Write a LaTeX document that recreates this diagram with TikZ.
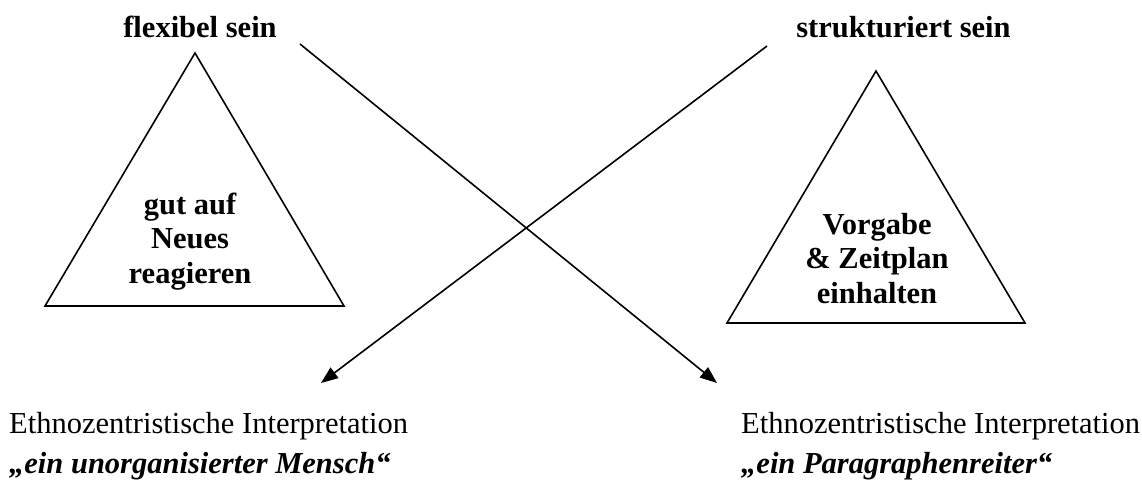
\documentclass[tikz,border=0pt]{standalone}
\usepackage{fontspec}
\setmainfont{Liberation Serif}
\usetikzlibrary{arrows.meta}

\tikzset{
  lbl/.style={inner sep=0pt, font=\fontsize{30.5}{34.5}\selectfont},
  title/.style={lbl, font=\fontsize{30.5}{34.5}\selectfont\bfseries, anchor=base},
  inner/.style={lbl, font=\fontsize{30.5}{34.5}\selectfont\bfseries, align=center, anchor=base},
  interp/.style={lbl, anchor=base west},
  quote/.style={lbl, font=\fontsize{30.5}{34.5}\selectfont\bfseries\itshape, anchor=base west},
  tri/.style={line width=1.6pt, line join=miter},
  link/.style={line width=1.6pt, -{Triangle[length=17pt,width=13pt]}}
}

\begin{document}
\begin{tikzpicture}[x=1pt,y=-1pt]
  \useasboundingbox (0,0) rectangle (1142,485);

  % headings
  \node[title] (flex) at (200,37) {flexibel sein};
  \node[title] (struct) at (903.5,37) {strukturiert sein};

  % triangles with their contents (node base = last line)
  \draw[tri] (195,53) -- (344,306) -- (45,306) -- cycle;
  \node[inner] (flexin) at (190,283) {gut auf\\Neues\\reagieren};

  \draw[tri] (876,71) -- (1025,323) -- (727,323) -- cycle;
  \node[inner] (structin) at (877,303) {Vorgabe\\\& Zeitplan\\einhalten};

  % interpretations
  \node[interp] (leftA) at (9,433) {Ethnozentristische Interpretation};
  \node[quote] (leftB) at (9,473) {„ein unorganisierter Mensch“};
  \node[interp] (rightA) at (741,433) {Ethnozentristische Interpretation};
  \node[quote] (rightB) at (741,473) {„ein Paragraphenreiter“};

  % crossing arrows
  \coordinate (flexout) at (300,44);
  \coordinate (structout) at (767,46);
  \coordinate (rightin) at (717,383);
  \coordinate (leftin) at (321,383);
  \draw[link] (flexout) -- (rightin);
  \draw[link] (structout) -- (leftin);
\end{tikzpicture}
\end{document}
